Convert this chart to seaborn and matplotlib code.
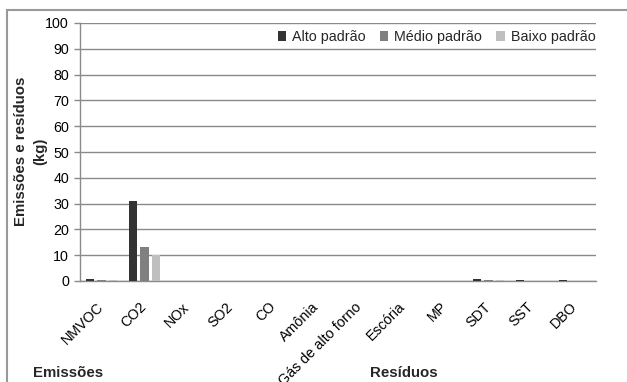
import matplotlib
matplotlib.use("Agg")
import matplotlib.pyplot as plt
from matplotlib.patches import Rectangle
from matplotlib.ticker import FixedLocator
import numpy as np
import pandas as pd
import seaborn as sns

# Emissions and residues per building standard (kg)
categories = ["NMVOC", "CO2", "NOx", "SO2", "CO", "Amônia", "Gás de alto forno",
              "Escória", "MP", "SDT", "SST", "DBO"]
series_names = ["Alto padrão", "Médio padrão", "Baixo padrão"]
alto = [0.8, 31.1, 0, 0, 0, 0, 0, 0, 0, 0.7, 0.2, 0.2]
medio = [0.2, 13.2, 0, 0, 0, 0, 0, 0, 0, 0.2, 0.1, 0.05]
baixo = [0.2, 10.0, 0, 0, 0, 0, 0, 0, 0, 0.2, 0.1, 0.05]
y_ticks = list(range(0, 101, 10))
colors = ["#333333", "#808080", "#bfbfbf"]

df = pd.DataFrame({
    "categoria": categories * 3,
    "padrao": [s for s in series_names for _ in categories],
    "valor": alto + medio + baixo,
})

sns.set_theme(style="white")
plt.rcParams["font.family"] = ["Liberation Sans", "DejaVu Sans"]

FS = 10.3
FS_BOLD = 10.8
GRID = "#8a8a8a"

fig = plt.figure(figsize=(6.27, 3.82), dpi=100)
ax = fig.add_axes([80 / 627, 1 - 281 / 382, 516 / 627, 258 / 382])

sns.barplot(data=df, x="categoria", y="valor", hue="padrao", order=categories,
            hue_order=series_names, palette=colors, width=0.8, gap=0.3,
            linewidth=0, saturation=1, ax=ax, zorder=3)

ax.set_ylim(0, 100)
ax.set_xlim(-0.5, len(categories) - 0.5)
ax.set_yticks(y_ticks)
ax.set_yticklabels([str(v) for v in y_ticks], fontsize=FS, color="black")
ax.yaxis.grid(True, color=GRID, linewidth=1.0, zorder=0)
ax.xaxis.grid(False)

ax.set_xticks(range(len(categories)))
ax.set_xticklabels(categories, rotation=45, ha="right", va="center",
                   rotation_mode="anchor", fontsize=FS, color="black")
ax.xaxis.set_minor_locator(FixedLocator(np.arange(-0.5, len(categories), 1.0)))
ax.tick_params(axis="x", which="major", length=0, pad=17)
ax.tick_params(axis="x", which="minor", length=4, color=GRID, width=1)
ax.tick_params(axis="y", which="major", length=4, color=GRID, width=1, pad=4, left=True)

for side in ["top", "right"]:
    ax.spines[side].set_visible(False)
for side in ["left", "bottom"]:
    ax.spines[side].set_color(GRID)
    ax.spines[side].set_linewidth(1.0)

ax.set_xlabel("")
ax.set_ylabel("")
fig.text(31 / 627, 1 - 151.5 / 382, "Emissões e resíduos\n(kg)", rotation=90,
         fontsize=FS_BOLD, fontweight="bold", ha="center", va="center",
         multialignment="center", linespacing=1.5)

handles, labels = ax.get_legend_handles_labels()
ax.legend(handles, labels, loc="upper right", bbox_to_anchor=(1.01, 0.995), ncol=3,
          frameon=False, fontsize=FS, handlelength=0.6, handleheight=0.6,
          handletextpad=0.4, columnspacing=1.0, borderaxespad=0)

fig.text(33 / 627, 1 - 373 / 382, "Emissões", fontsize=FS_BOLD, fontweight="bold",
         ha="left", va="center")
fig.text(370 / 627, 1 - 373 / 382, "Resíduos", fontsize=FS_BOLD, fontweight="bold",
         ha="left", va="center")

# outer chart frame
fig.patches.append(Rectangle((6.5 / 627, -0.05), 1.0, 1.05 - 9.5 / 382,
                             transform=fig.transFigure, fill=False,
                             edgecolor="#999999", linewidth=1.5, zorder=0))

fig.savefig("out.png", dpi=100, facecolor="white")
